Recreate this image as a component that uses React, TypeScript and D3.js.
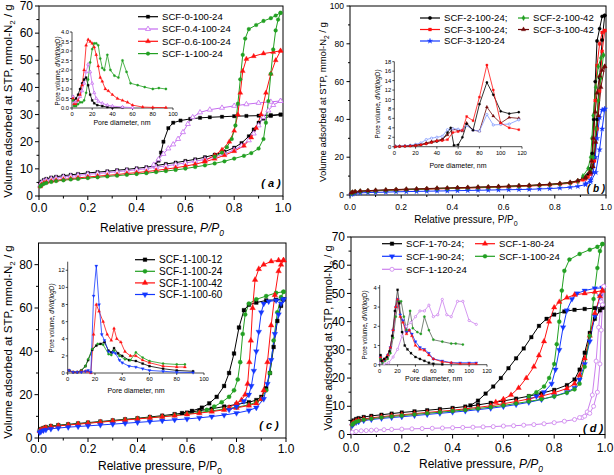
import React, { useEffect, useRef } from "react";
import * as d3 from "d3";

type Pt = [number, number];

// ---------------- Panel (a) ----------------
const aNames = ["SCF-0-100-24", "SCF-0.4-100-24", "SCF-0.6-100-24", "SCF-1-100-24"];
const aYTicks = [0, 10, 20, 30, 40, 50, 60, 70];
const a0Ads: Pt[] = [[0.005,4.5],[0.01,5.3],[0.02,5.9],[0.03,6.3],[0.05,6.8],[0.07,7.1],[0.1,7.5],[0.13,7.8],[0.16,8.1],[0.2,8.5],[0.24,8.8],[0.28,9.1],[0.32,9.5],[0.36,9.8],[0.4,10.2],[0.44,10.6],[0.48,11.2],[0.52,11.8],[0.56,12.3],[0.6,12.9],[0.64,13.5],[0.68,14.3],[0.72,15.2],[0.76,16.3],[0.8,17.8],[0.83,19.5],[0.86,22],[0.88,24.5],[0.9,27],[0.92,28.5],[0.95,29.5],[0.99,30]];
const a0Des: Pt[] = [[0.99,30],[0.95,29.8],[0.9,29.6],[0.85,29.5],[0.8,29.4],[0.75,29.2],[0.7,29],[0.66,28.8],[0.62,28.4],[0.58,27.8],[0.55,27],[0.53,25],[0.51,20],[0.5,16],[0.49,13],[0.475,11.5]];
const a04Ads: Pt[] = [[0.005,4],[0.01,4.8],[0.02,5.4],[0.03,5.8],[0.05,6.3],[0.07,6.6],[0.1,7],[0.13,7.3],[0.16,7.6],[0.2,8],[0.24,8.3],[0.28,8.6],[0.32,9],[0.36,9.3],[0.4,9.7],[0.44,10.1],[0.48,10.6],[0.52,11.1],[0.56,11.6],[0.6,12.2],[0.64,12.8],[0.68,13.5],[0.72,14.4],[0.76,15.5],[0.8,17],[0.83,18.5],[0.86,20.5],[0.88,23],[0.9,26],[0.92,29],[0.94,31.5],[0.96,33.5],[0.99,35]];
const a04Des: Pt[] = [[0.99,35],[0.95,34.7],[0.9,34.3],[0.85,33.8],[0.8,33.2],[0.75,32.5],[0.7,31.8],[0.66,30.8],[0.63,29],[0.61,26.5],[0.59,23.5],[0.57,21],[0.55,19],[0.53,17.5],[0.51,15.5],[0.49,13.5],[0.47,11.5]];
const a06Ads: Pt[] = [[0.005,3.5],[0.01,4.2],[0.02,4.8],[0.03,5.1],[0.05,5.5],[0.07,5.8],[0.1,6.1],[0.13,6.4],[0.16,6.7],[0.2,7],[0.24,7.3],[0.28,7.6],[0.32,7.9],[0.36,8.3],[0.4,8.6],[0.44,9],[0.48,9.4],[0.52,9.9],[0.56,10.4],[0.6,11],[0.64,11.7],[0.68,12.6],[0.72,13.7],[0.76,15],[0.8,16.5],[0.84,18.5],[0.87,21.5],[0.89,25],[0.91,30],[0.93,38],[0.95,45],[0.97,50],[0.99,53.5]];
const a06Des: Pt[] = [[0.99,53.5],[0.96,53],[0.92,52.5],[0.88,51.5],[0.85,50.5],[0.835,46],[0.825,38],[0.815,30],[0.8,24],[0.78,20],[0.75,17],[0.72,15],[0.68,13]];
const a1Ads: Pt[] = [[0.005,3.5],[0.01,4],[0.02,4.5],[0.03,4.8],[0.05,5.2],[0.07,5.5],[0.1,5.8],[0.13,6.1],[0.16,6.3],[0.2,6.6],[0.24,6.9],[0.28,7.2],[0.32,7.5],[0.36,7.8],[0.4,8.1],[0.44,8.4],[0.48,8.8],[0.52,9.2],[0.56,9.6],[0.6,10.1],[0.64,10.7],[0.68,11.3],[0.72,12],[0.76,12.8],[0.8,13.8],[0.84,14.8],[0.87,15.8],[0.9,17.5],[0.92,21],[0.93,27],[0.94,35],[0.95,45],[0.96,54],[0.97,61],[0.98,65],[0.99,67.5]];
const a1Des: Pt[] = [[0.99,67.5],[0.97,66.5],[0.95,65.5],[0.92,64.5],[0.89,63],[0.86,61.5],[0.845,58],[0.835,52],[0.825,43],[0.815,34],[0.805,26],[0.79,21],[0.77,18],[0.75,16],[0.72,14.5]];
// inset (a)
const aInXTicks = [0, 20, 40, 60, 80, 100];
const aInYTicks = [0, 0.5, 1, 1.5, 2, 2.5, 3, 3.5, 4];
const aIn0: Pt[] = [[1,0.6],[2,0.4],[4,0.5],[6,0.7],[8,1.0],[10,1.3],[12,1.5],[14,1.6],[16,1.2],[18,0.7],[20,0.4],[22,0.25],[25,0.15],[30,0.1],[35,0.05],[40,0.02],[50,0.02]];
const aIn04: Pt[] = [[1,0.6],[2,0.3],[4,0.3],[6,0.4],[8,0.6],[10,0.9],[12,1.3],[14,1.9],[16,2.3],[18,1.9],[20,1.3],[22,0.8],[24,0.5],[26,0.35],[30,0.25],[35,0.15],[40,0.1],[50,0.05],[60,0.02]];
const aIn06: Pt[] = [[1,0.5],[2,0.2],[4,0.2],[6,0.4],[8,0.7],[10,1.2],[12,2.0],[14,3.3],[16,3.6],[18,3.5],[20,3.4],[22,3.2],[24,2.8],[26,2.2],[28,1.6],[30,1.4],[33,1.0],[36,0.9],[40,0.7],[45,0.5],[50,0.4],[55,0.3],[60,0.15],[70,0.05],[80,0.03],[93,0.02]];
const aIn1: Pt[] = [[1,0.4],[2,0.1],[4,0.1],[6,0.2],[8,0.3],[10,0.3],[12,0.4],[14,0.8],[16,1.5],[18,2.4],[20,3.1],[22,3.4],[24,3.4],[26,3.3],[28,2.6],[30,2.1],[32,2.0],[35,2.8],[38,2.0],[42,1.7],[46,1.6],[50,2.5],[54,1.9],[58,1.3],[65,1.2],[72,1.1],[80,1.0],[86,1.05],[93,1.0]];

// ---------------- Panel (b) ----------------
const bNames = ["SCF-2-100-24;", "SCF-3-100-24;", "SCF-3-120-24", "SCF-2-100-42", "SCF-3-100-42"];
const bYTicks = [0, 20, 40, 60, 80, 100];
const b2Ads: Pt[] = [[0.005,1],[0.01,1.4],[0.02,1.7],[0.04,2],[0.07,2.2],[0.1,2.4],[0.14,2.6],[0.18,2.8],[0.22,3],[0.26,3.1],[0.3,3.3],[0.34,3.5],[0.38,3.6],[0.42,3.8],[0.46,3.9],[0.5,4.1],[0.54,4.2],[0.58,4.4],[0.62,4.6],[0.66,4.8],[0.7,5],[0.74,5.3],[0.78,5.6],[0.82,6],[0.86,6.6],[0.89,7.5],[0.92,9],[0.94,12],[0.955,20],[0.965,40],[0.975,62],[0.985,82],[0.995,95]];
const b2Des: Pt[] = [[0.995,95],[0.985,94.5],[0.975,88],[0.965,81.5],[0.958,60],[0.952,40],[0.946,22],[0.94,14],[0.93,11],[0.91,9]];
const b3Ads: Pt[] = [[0.005,0.8],[0.01,1.2],[0.02,1.5],[0.04,1.8],[0.07,2],[0.1,2.2],[0.14,2.4],[0.18,2.6],[0.22,2.8],[0.26,2.9],[0.3,3.1],[0.34,3.2],[0.38,3.4],[0.42,3.5],[0.46,3.7],[0.5,3.8],[0.54,4],[0.58,4.1],[0.62,4.3],[0.66,4.5],[0.7,4.7],[0.74,5],[0.78,5.3],[0.82,5.7],[0.86,6.2],[0.89,7],[0.92,8.5],[0.94,11],[0.955,18],[0.965,35],[0.975,55],[0.985,76],[0.995,87]];
const b3Des: Pt[] = [[0.995,87],[0.985,86],[0.975,80],[0.965,68.5],[0.958,50],[0.952,30],[0.946,18],[0.94,12],[0.93,9.5],[0.91,8]];
const b3120Ads: Pt[] = [[0.005,0.3],[0.01,0.6],[0.02,0.9],[0.04,1.1],[0.07,1.3],[0.1,1.4],[0.14,1.5],[0.18,1.7],[0.22,1.8],[0.26,1.9],[0.3,2],[0.34,2.1],[0.38,2.2],[0.42,2.3],[0.46,2.4],[0.5,2.5],[0.54,2.6],[0.58,2.7],[0.62,2.8],[0.66,2.9],[0.7,3],[0.74,3.2],[0.78,3.4],[0.82,3.7],[0.86,4.1],[0.89,4.6],[0.92,5.5],[0.94,7],[0.96,12],[0.975,24],[0.985,35],[0.995,45.5]];
const b3120Des: Pt[] = [[0.995,45.5],[0.985,45],[0.975,41],[0.965,30],[0.958,20],[0.95,12],[0.94,8],[0.92,6]];
const b242Ads: Pt[] = [[0.005,0.9],[0.01,1.3],[0.02,1.6],[0.04,1.9],[0.07,2.1],[0.1,2.3],[0.14,2.5],[0.18,2.7],[0.22,2.9],[0.26,3],[0.3,3.2],[0.34,3.4],[0.38,3.5],[0.42,3.7],[0.46,3.8],[0.5,4],[0.54,4.1],[0.58,4.3],[0.62,4.5],[0.66,4.7],[0.7,4.9],[0.74,5.2],[0.78,5.5],[0.82,5.9],[0.86,6.5],[0.89,7.4],[0.92,9.5],[0.94,13],[0.95,20],[0.96,35],[0.97,50],[0.98,62],[0.99,74]];
const b242Des: Pt[] = [[0.99,74],[0.98,72.5],[0.97,68],[0.96,57],[0.95,42],[0.945,30],[0.94,20],[0.93,14],[0.91,10]];
const b342Ads: Pt[] = [[0.005,1.1],[0.01,1.5],[0.02,1.8],[0.04,2.1],[0.07,2.3],[0.1,2.5],[0.14,2.7],[0.18,2.9],[0.22,3.1],[0.26,3.2],[0.3,3.4],[0.34,3.6],[0.38,3.7],[0.42,3.9],[0.46,4],[0.5,4.2],[0.54,4.3],[0.58,4.5],[0.62,4.7],[0.66,4.9],[0.7,5.1],[0.74,5.4],[0.78,5.7],[0.82,6.1],[0.86,6.7],[0.89,7.6],[0.92,9.5],[0.94,12],[0.95,15],[0.96,28],[0.97,42],[0.98,57],[0.995,68]];
const b342Des: Pt[] = [[0.995,68],[0.985,66],[0.975,63],[0.965,54],[0.958,44],[0.95,30],[0.944,18],[0.935,12],[0.92,9]];
// inset (b)
const bInXTicks = [0, 20, 40, 60, 80, 100, 120];
const bInYTicks = [0, 2, 4, 6, 8, 10, 12, 14, 16, 18];
const bIn2: Pt[] = [[1,0],[5,0.05],[10,0.1],[15,0.2],[20,0.3],[25,0.4],[30,0.6],[35,0.9],[40,1.1],[45,1.4],[50,3],[53,4],[56,0.3],[60,0.4],[64,2],[68,4.8],[74,3.5],[80,9],[87,13.6],[93,11],[100,7.5],[108,7],[117,7.3]];
const bIn3: Pt[] = [[1,0],[5,0.05],[10,0.1],[15,0.15],[20,0.25],[25,0.4],[30,0.6],[35,0.9],[40,1.2],[45,1.3],[50,1.5],[55,3],[60,3.2],[64,3.5],[68,6.4],[74,5.5],[80,10.5],[87,17.3],[93,12],[100,5],[108,4],[117,3.6]];
const bIn342: Pt[] = [[1,0.1],[5,0.1],[10,0.15],[15,0.2],[20,0.3],[25,0.5],[30,0.8],[35,1.1],[40,1.3],[45,1.6],[50,2.5],[55,3.7],[60,3.5],[64,3.3],[68,5],[74,3.5],[80,3.3],[87,8.4],[93,6.5],[100,5],[108,6.2],[117,6]];
const bIn3120: Pt[] = [[1,0.1],[5,0.1],[10,0.2],[15,0.3],[20,0.5],[25,0.8],[30,1.5],[35,1.8],[40,2],[45,2.2],[50,3.6],[55,3.8],[60,3.7],[64,3.5],[68,4.5],[74,3.5],[80,3.3],[87,6.8],[93,4.6],[100,4.7],[108,4.8],[117,5.7]];

// ---------------- Panel (c) ----------------
const cNames = ["SCF-1-100-12", "SCF-1-100-24", "SCF-1-100-42", "SCF-1-100-60"];
const cYTicks = [0, 20, 40, 60, 80];
const c12Ads: Pt[] = [[0.005,3.5],[0.01,4.1],[0.02,4.6],[0.03,5],[0.05,5.5],[0.08,5.9],[0.12,6.3],[0.16,6.7],[0.2,7.1],[0.25,7.6],[0.3,8.1],[0.35,8.6],[0.4,9.1],[0.45,9.7],[0.5,10.3],[0.55,11],[0.6,11.7],[0.65,12.6],[0.7,13.5],[0.75,14.5],[0.8,15.5],[0.85,16.5],[0.88,17.5],[0.9,19],[0.92,23],[0.935,30],[0.95,42],[0.965,54],[0.98,61],[0.99,64]];
const c12Des: Pt[] = [[0.99,64],[0.96,63.8],[0.92,63.5],[0.88,62.5],[0.85,61.5],[0.83,59],[0.81,51],[0.79,39],[0.77,30],[0.75,24],[0.72,19],[0.69,16],[0.66,14],[0.62,12.5],[0.58,11.5]];
const c24Ads: Pt[] = [[0.005,3.3],[0.01,3.9],[0.02,4.4],[0.03,4.8],[0.05,5.3],[0.08,5.7],[0.12,6.1],[0.16,6.5],[0.2,6.9],[0.25,7.4],[0.3,7.9],[0.35,8.4],[0.4,8.9],[0.45,9.4],[0.5,9.9],[0.55,10.5],[0.6,11.1],[0.65,11.8],[0.7,12.5],[0.75,13.3],[0.8,14.2],[0.85,15.3],[0.88,16.5],[0.9,18],[0.92,22],[0.935,30],[0.95,45],[0.965,58],[0.98,65],[0.99,67.5]];
const c24Des: Pt[] = [[0.99,67.5],[0.96,67],[0.92,65.5],[0.88,64],[0.85,62],[0.835,57],[0.825,48],[0.815,35],[0.805,27],[0.79,22],[0.77,19],[0.74,16.5],[0.71,14.5],[0.68,13]];
const c42Ads: Pt[] = [[0.005,3.2],[0.01,3.8],[0.02,4.3],[0.03,4.7],[0.05,5.2],[0.08,5.6],[0.12,6],[0.16,6.4],[0.2,6.8],[0.25,7.3],[0.3,7.8],[0.35,8.3],[0.4,8.8],[0.45,9.3],[0.5,9.8],[0.55,10.3],[0.6,10.9],[0.65,11.5],[0.7,12.2],[0.75,13],[0.8,13.9],[0.85,15],[0.88,16],[0.9,18],[0.91,22],[0.925,35],[0.94,52],[0.955,66],[0.97,77],[0.98,80],[0.99,82]];
const c42Des: Pt[] = [[0.99,82],[0.97,82],[0.94,81.5],[0.91,80],[0.89,78],[0.875,73],[0.865,60],[0.858,45],[0.852,35],[0.845,25],[0.835,20],[0.82,17.5],[0.8,16],[0.77,14]];
const c60Ads: Pt[] = [[0.005,2.5],[0.01,3],[0.02,3.5],[0.03,3.8],[0.05,4.2],[0.08,4.6],[0.12,5],[0.16,5.3],[0.2,5.6],[0.25,6],[0.3,6.4],[0.35,6.8],[0.4,7.2],[0.45,7.6],[0.5,8],[0.55,8.4],[0.6,8.8],[0.65,9.3],[0.7,9.9],[0.75,10.6],[0.8,11.5],[0.85,12.7],[0.88,14],[0.91,18],[0.925,25],[0.94,36],[0.955,48],[0.97,57],[0.98,62],[0.99,64]];
const c60Des: Pt[] = [[0.99,64],[0.96,63.5],[0.93,63],[0.91,62],[0.9,58],[0.89,49],[0.88,40],[0.87,31],[0.86,24],[0.85,20],[0.83,17],[0.8,14.5],[0.77,13]];
// inset (c)
const cInXTicks = [0, 20, 40, 60, 80, 100];
const cInYTicks = [0, 2, 4, 6, 8, 10, 12];
const cIn12: Pt[] = [[1,0.3],[4,0.1],[7,0.1],[10,0.3],[13,0.8],[15,1.5],[18,2.7],[21,3.2],[24,3.4],[27,3.6],[30,2.6],[32,2.4],[34,2.9],[37,2.3],[40,2],[45,1.5],[50,1.4],[55,1.1],[60,0.8],[70,0.5],[80,0.3],[92,0.2]];
const cIn24: Pt[] = [[1,0.3],[4,0.1],[7,0.1],[10,0.3],[13,0.8],[15,1.6],[18,2.8],[22,3.4],[26,3.3],[30,2.2],[32,2.1],[34,2.6],[38,2.0],[42,1.6],[46,1.5],[50,2.4],[55,1.8],[60,1.4],[70,1.1],[80,1.0],[86,1.0]];
const cIn42: Pt[] = [[1,0.3],[4,0.1],[7,0.1],[10,0.2],[13,0.2],[15,0.2],[17,0],[19,4.5],[21,8],[23,7.2],[26,6],[29,4.5],[32,3.8],[34,5.2],[36,4],[39,3.6],[42,2.5],[46,2],[50,2],[55,1.5],[60,1.2],[70,0.8],[80,0.7],[86,0.7]];
const cIn60: Pt[] = [[1,0.3],[4,0.1],[7,0.1],[10,0.1],[13,0.2],[15,0.3],[17,0.1],[19,9],[21,12.5],[23,8],[25,4.5],[27,3.8],[30,2.5],[33,2.4],[35,2.3],[38,1.5],[40,1.2],[45,0.8],[50,0.7],[55,0.5],[60,0.3],[70,0.2],[80,0.1],[92,0.05]];

// ---------------- Panel (d) ----------------
const dNames = ["SCF-1-70-24;", "SCF-1-90-24;", "SCF-1-120-24", "SCF-1-80-24", "SCF-1-100-24"];
const dYTicks = [0, 10, 20, 30, 40, 50, 60, 70];
const d70Ads: Pt[] = [[0.005,4.5],[0.01,5],[0.02,5.5],[0.03,5.8],[0.05,6.2],[0.08,6.6],[0.12,7],[0.16,7.4],[0.2,7.8],[0.25,8.2],[0.3,8.6],[0.35,9],[0.4,9.4],[0.45,9.9],[0.5,10.5],[0.55,11.2],[0.6,11.9],[0.65,12.7],[0.7,13.6],[0.75,14.6],[0.8,15.8],[0.85,17.5],[0.88,19.5],[0.9,23],[0.92,29],[0.94,36],[0.96,41],[0.98,44],[0.99,45]];
const d70Des: Pt[] = [[0.99,45],[0.96,44.8],[0.92,44.5],[0.88,44.2],[0.84,43.6],[0.8,42.5],[0.77,41],[0.74,38.5],[0.71,34.5],[0.68,30.5],[0.65,27],[0.62,23.5],[0.59,20],[0.56,17],[0.53,14.5],[0.5,12],[0.47,10.3]];
const d80Ads: Pt[] = [[0.005,3.8],[0.01,4.3],[0.02,4.8],[0.03,5.1],[0.05,5.5],[0.08,5.9],[0.12,6.3],[0.16,6.7],[0.2,7],[0.25,7.4],[0.3,7.8],[0.35,8.2],[0.4,8.6],[0.45,9.1],[0.5,9.6],[0.55,10.2],[0.6,10.9],[0.65,11.7],[0.7,12.6],[0.75,13.6],[0.8,14.8],[0.85,16.3],[0.88,18],[0.9,21],[0.92,27],[0.94,35],[0.96,43],[0.98,49],[0.99,51]];
const d80Des: Pt[] = [[0.99,51],[0.96,50.5],[0.92,50],[0.88,49.5],[0.85,48.5],[0.82,47],[0.8,45],[0.78,40],[0.76,33],[0.74,28],[0.72,24],[0.69,20],[0.66,16.5],[0.63,14],[0.6,12.5],[0.57,11.5]];
const d90Ads: Pt[] = [[0.005,3.2],[0.01,3.7],[0.02,4.2],[0.03,4.5],[0.05,4.9],[0.08,5.3],[0.12,5.7],[0.16,6],[0.2,6.3],[0.25,6.7],[0.3,7.1],[0.35,7.5],[0.4,7.9],[0.45,8.3],[0.5,8.8],[0.55,9.3],[0.6,9.9],[0.65,10.6],[0.7,11.4],[0.75,12.4],[0.8,13.6],[0.85,15],[0.88,16.5],[0.9,19.5],[0.92,25],[0.94,33],[0.96,42],[0.98,49],[0.99,52]];
const d90Des: Pt[] = [[0.99,52],[0.96,51.8],[0.92,51],[0.89,50],[0.87,48],[0.85,44],[0.835,38],[0.82,30],[0.805,23],[0.79,18],[0.76,15],[0.73,13.5],[0.7,12.5]];
const d100Ads: Pt[] = [[0.005,3.5],[0.01,4],[0.02,4.5],[0.03,4.8],[0.05,5.2],[0.08,5.6],[0.12,6],[0.16,6.4],[0.2,6.7],[0.25,7.1],[0.3,7.5],[0.35,7.9],[0.4,8.3],[0.45,8.7],[0.5,9.2],[0.55,9.7],[0.6,10.3],[0.65,11],[0.7,11.7],[0.75,12.5],[0.8,13.5],[0.85,14.8],[0.88,16],[0.9,18],[0.92,24],[0.94,35],[0.955,48],[0.97,59],[0.98,65],[0.99,67.5]];
const d100Des: Pt[] = [[0.99,67.5],[0.97,66.5],[0.94,65.5],[0.9,64],[0.86,62],[0.84,58],[0.83,51],[0.82,40],[0.81,32],[0.8,25],[0.78,20],[0.76,17],[0.73,15],[0.7,13.5]];
const d120Ads: Pt[] = [[0.005,0.8],[0.02,1.1],[0.04,1.3],[0.06,1.4],[0.08,1.5],[0.1,1.6],[0.13,1.7],[0.16,1.8],[0.2,1.9],[0.24,2],[0.28,2.1],[0.32,2.2],[0.36,2.3],[0.4,2.4],[0.44,2.5],[0.48,2.6],[0.52,2.7],[0.56,2.8],[0.6,3],[0.64,3.1],[0.68,3.3],[0.72,3.5],[0.76,3.8],[0.8,4.2],[0.84,4.7],[0.88,5.3],[0.91,6],[0.93,8],[0.95,14],[0.965,26],[0.975,38],[0.985,47],[0.995,52.5]];
const d120Des: Pt[] = [[0.995,52.5],[0.99,46],[0.985,37],[0.98,25],[0.97,15],[0.955,10],[0.94,7.5],[0.92,6.5],[0.9,6]];
// inset (d)
const dInXTicks = [0, 20, 40, 60, 80, 100, 120];
const dInYTicks = [0, 1, 2, 3, 4];
const dIn70: Pt[] = [[1,0.5],[2,0.2],[5,0.3],[8,0.4],[11,0.7],[14,1.5],[17,2.8],[20,3.9],[22,3.2],[25,1.7],[28,1.0],[31,0.8],[35,0.6],[40,0.4],[45,0.3],[50,0.2],[55,0.1],[60,0.05],[70,0.02]];
const dIn80: Pt[] = [[1,0.4],[3,0.2],[6,0.3],[9,0.5],[12,0.9],[15,1.8],[18,3.0],[20,3.4],[23,2.5],[26,2.2],[30,1.6],[33,1.8],[36,1.5],[40,1.0],[45,0.8],[50,0.75],[55,0.5],[60,0.3],[70,0.15],[80,0.1],[90,0.05],[100,0.05],[108,0.05]];
const dIn90: Pt[] = [[1,0.4],[3,0.2],[6,0.3],[9,0.5],[12,0.9],[15,1.8],[18,3.0],[20,3.4],[23,2.6],[26,2.3],[30,1.7],[33,1.8],[36,1.6],[40,1.2],[45,0.9],[50,0.8],[55,0.6],[60,0.3],[70,0.2],[80,0.1],[90,0.1],[100,0.1],[108,0.1]];
const dIn100: Pt[] = [[1,0.3],[3,0.1],[6,0.2],[9,0.3],[12,0.6],[15,1.4],[18,2.5],[21,3.3],[24,3.3],[27,2.5],[30,1.8],[34,2.8],[37,1.9],[42,1.7],[46,1.6],[50,2.5],[55,1.8],[60,1.3],[70,1.2],[80,1.1],[85,1.1],[93,1.05]];
const dIn120: Pt[] = [[1,0.1],[5,0.05],[10,0.1],[15,0.4],[20,0.8],[25,1.5],[30,2],[35,2.2],[40,2.5],[45,2.8],[50,2.8],[55,3.1],[60,2.5],[65,2.6],[70,3.4],[75,2.6],[80,2.5],[87,3.3],[93,3.3],[100,2.3],[108,2.1]];

// ---------------- drawing ----------------
const FONT = "'Liberation Sans', Arial, Helvetica, sans-serif";
const BLACK = "#000000", VIOLET = "#c56cf0", RED = "#ff1010", GREEN = "#22a022", BLUE = "#1438ff", BROWN = "#700808", LBLUE = "#7f98ff", VIOLET2 = "#cc80ee";

interface S { color: string; line?: string; shape: string; open?: boolean; branches: Pt[][] }
interface Frame { x0: number; x1: number; y0: number; y1: number; xMax: number; yMax: number; xTicks: number[]; xMinor: number[]; yTicks: number[]; yMinor: number[]; font: number; xFmt: (v: number) => string; yFmt: (v: number) => string; tick: number; minorLen: number; xDy: number; yDx: number; box: boolean; sw: number }

function symPath(shape: string, size: number) {
  const t = shape === "square" ? d3.symbolSquare : shape === "circle" ? d3.symbolCircle : shape === "tri" || shape === "triDown" ? d3.symbolTriangle : shape === "diamond" ? d3.symbolDiamond : d3.symbolStar;
  return d3.symbol().type(t).size(size)() as string;
}

function marker(g: any, shape: string, x: number, y: number, size: number, color: string, open?: boolean) {
  g.append("path").attr("d", symPath(shape, size))
    .attr("transform", `translate(${x},${y})${shape === "triDown" ? " rotate(180)" : ""}`)
    .attr("fill", open ? "#fff" : color).attr("stroke", color).attr("stroke-width", open ? 0.8 : 0.3);
}

function drawFrame(g: any, f: Frame) {
  const x = d3.scaleLinear().domain([0, f.xMax]).range([f.x0, f.x1]);
  const y = d3.scaleLinear().domain([0, f.yMax]).range([f.y0, f.y1]);
  const ln = (x1: number, y1: number, x2: number, y2: number) => g.append("line").attr("x1", x1).attr("y1", y1).attr("x2", x2).attr("y2", y2).attr("stroke", "#000").attr("stroke-width", f.sw);
  if (f.box) {
    g.append("rect").attr("x", f.x0).attr("y", f.y1).attr("width", f.x1 - f.x0).attr("height", f.y0 - f.y1).attr("fill", "none").attr("stroke", "#000").attr("stroke-width", f.sw);
  } else {
    ln(f.x0, f.y0, f.x1, f.y0);
    ln(f.x0, f.y0, f.x0, f.y1);
  }
  f.xTicks.forEach((v) => {
    ln(x(v), f.y0, x(v), f.y0 + f.tick);
    g.append("text").attr("x", x(v)).attr("y", f.y0 + f.xDy).attr("text-anchor", "middle").attr("font-size", f.font).attr("font-family", FONT).text(f.xFmt(v));
  });
  f.xMinor.forEach((v) => ln(x(v), f.y0, x(v), f.y0 + f.minorLen));
  f.yTicks.forEach((v) => {
    ln(f.x0, y(v), f.x0 - f.tick, y(v));
    g.append("text").attr("x", f.x0 + f.yDx).attr("y", y(v) + f.font * 0.35).attr("text-anchor", "end").attr("font-size", f.font).attr("font-family", FONT).text(f.yFmt(v));
  });
  f.yMinor.forEach((v) => ln(f.x0, y(v), f.x0 - f.minorLen, y(v)));
  return { x, y };
}

function drawSeries(g: any, sc: { x: any; y: any }, series: S[], msize: number, lw: number) {
  const line = d3.line<Pt>().x((d) => sc.x(d[0])).y((d) => sc.y(d[1]));
  series.forEach((s) => {
    s.branches.forEach((b) => {
      g.append("path").attr("d", line(b)).attr("fill", "none").attr("stroke", s.line || s.color).attr("stroke-width", lw);
    });
  });
  series.forEach((s) => {
    s.branches.forEach((b) => b.forEach((d) => marker(g, s.shape, sc.x(d[0]), sc.y(d[1]), msize, s.color, s.open)));
  });
}

function legendItem(g: any, x1: number, x2: number, y: number, s: S, name: string, font: number, msize: number) {
  g.append("line").attr("x1", x1).attr("x2", x2).attr("y1", y).attr("y2", y).attr("stroke", s.line || s.color).attr("stroke-width", 1.2);
  marker(g, s.shape, (x1 + x2) / 2, y, msize, s.color, s.open);
  g.append("text").attr("x", x2 + 4).attr("y", y + font * 0.36).attr("font-size", font).attr("font-family", FONT).text(name);
}

function yTitle(g: any, cx: number, cy: number, font: number, text1: string, sub: string, text2: string, italicPart?: string) {
  const t = g.append("text").attr("transform", `translate(${cx},${cy}) rotate(-90)`).attr("text-anchor", "middle").attr("font-size", font).attr("font-family", FONT).attr("dy", font * 0.35);
  t.append("tspan").text(text1);
  if (italicPart) t.append("tspan").attr("font-style", "italic").text(italicPart);
  if (sub) t.append("tspan").attr("font-size", font * 0.7).attr("dy", font * 0.25).text(sub);
  if (text2) t.append("tspan").attr("dy", sub ? -font * 0.25 : 0).text(text2);
}

function xTitle(g: any, cx: number, y: number, font: number, italic: boolean) {
  const t = g.append("text").attr("x", cx).attr("y", y).attr("text-anchor", "middle").attr("font-size", font).attr("font-family", FONT);
  t.append("tspan").text("Relative pressure, ");
  t.append("tspan").attr("font-style", italic ? "italic" : "normal").text("P/P");
  t.append("tspan").attr("font-style", italic ? "italic" : "normal").attr("font-size", font * 0.7).attr("dy", font * 0.3).text("0");
}

function panelLabel(g: any, x: number, y: number, font: number, letter: string) {
  g.append("text").attr("x", x).attr("y", y).attr("text-anchor", "middle").attr("font-size", font).attr("font-weight", "bold").attr("font-style", "italic").attr("font-family", FONT).attr("xml:space", "preserve").text(`( ${letter} )`);
}

const f1 = d3.format(".1f");
const fd = d3.format("d");
const xMainTicks = [0, 0.2, 0.4, 0.6, 0.8, 1.0];
const xMainMinor = [0.1, 0.3, 0.5, 0.7, 0.9];

function inset(g: any, f: Partial<Frame> & { x0: number; x1: number; y0: number; y1: number; xMax: number; yMax: number; xTicks: number[]; yTicks: number[]; yFmt: (v: number) => string }, series: S[], yl: [number, number], xl: [number, number]) {
  const full: Frame = { xMinor: [], yMinor: [], font: 5.8, xFmt: fd, tick: 2, minorLen: 0, xDy: 8, yDx: -3, box: false, sw: 0.7, ...f } as Frame;
  const sc = drawFrame(g, full);
  drawSeries(g, sc, series, 4, 0.8);
  yTitle(g, yl[0], yl[1], 6.3, "Pore volume, ", "", "", "dV/d(logD)");
  g.append("text").attr("x", xl[0]).attr("y", xl[1]).attr("text-anchor", "middle").attr("font-size", 7).attr("font-family", FONT).text("Pore diameter, nm");
}

export default function App() {
  const ref = useRef<SVGSVGElement>(null);
  useEffect(() => {
    const svg = d3.select(ref.current);
    svg.selectAll("*").remove();
    svg.append("rect").attr("width", 614).attr("height", 475).attr("fill", "#fff");
    const g = svg.append("g");

    // ===== Panel a =====
    const aS: S[] = [
      { color: BLACK, shape: "square", branches: [a0Ads, a0Des] },
      { color: VIOLET, shape: "tri", open: true, branches: [a04Ads, a04Des] },
      { color: RED, shape: "tri", branches: [a06Ads, a06Des] },
      { color: GREEN, shape: "circle", branches: [a1Ads, a1Des] },
    ];
    const aSc = drawFrame(g, { x0: 39, x1: 283, y0: 196, y1: 6, xMax: 1, yMax: 70, xTicks: xMainTicks, xMinor: xMainMinor, yTicks: aYTicks, yMinor: [5, 15, 25, 35, 45, 55, 65], font: 12, xFmt: f1, yFmt: fd, tick: 4, minorLen: 2.5, xDy: 16, yDx: -6, box: true, sw: 1 });
    drawSeries(g, aSc, aS, 11, 1);
    aS.forEach((s, i) => legendItem(g, 138, 158, 16.7 + i * 12.3, s, aNames[i], 9.6, 11));
    inset(g, { x0: 72, x1: 173, y0: 108, y1: 32, xMax: 100, yMax: 4, xTicks: aInXTicks, yTicks: aInYTicks, yFmt: f1 }, [
      { color: BLACK, shape: "square", branches: [aIn0] },
      { color: VIOLET, shape: "tri", open: true, branches: [aIn04] },
      { color: RED, shape: "tri", branches: [aIn06] },
      { color: GREEN, shape: "circle", branches: [aIn1] },
    ], [58, 71], [122, 125]);
    yTitle(g, 8, 101, 11.5, "Volume adsorbed at STP, mmol-N", "2", " / g");
    xTitle(g, 162, 232, 12, true);
    panelLabel(g, 271, 187, 11, "a");

    // ===== Panel b =====
    const bS: S[] = [
      { color: BLACK, shape: "circle", branches: [b2Ads, b2Des] },
      { color: RED, shape: "square", branches: [b3Ads, b3Des] },
      { color: BLUE, shape: "star", branches: [b3120Ads, b3120Des] },
      { color: GREEN, shape: "diamond", branches: [b242Ads, b242Des] },
      { color: BROWN, shape: "tri", branches: [b342Ads, b342Des] },
    ];
    const bSc = drawFrame(g, { x0: 350, x1: 606, y0: 195, y1: 6, xMax: 1, yMax: 100, xTicks: xMainTicks, xMinor: xMainMinor, yTicks: bYTicks, yMinor: [10, 30, 50, 70, 90], font: 8.5, xFmt: f1, yFmt: fd, tick: 3.5, minorLen: 2, xDy: 14.5, yDx: -6, box: true, sw: 1 });
    drawSeries(g, bSc, bS, 9, 1);
    legendItem(g, 420, 440, 18, bS[0], bNames[0], 9.6, 9);
    legendItem(g, 420, 440, 29.5, bS[1], bNames[1], 9.6, 9);
    legendItem(g, 420, 440, 41, bS[2], bNames[2], 9.6, 9);
    legendItem(g, 518, 529, 18, bS[3], bNames[3], 9.6, 9);
    legendItem(g, 518, 529, 29.5, bS[4], bNames[4], 9.6, 9);
    inset(g, { x0: 394.3, x1: 522, y0: 146.7, y1: 61.7, xMax: 120, yMax: 18, xTicks: bInXTicks, yTicks: bInYTicks, yFmt: fd }, [
      { color: BROWN, shape: "tri", branches: [bIn342] },
      { color: LBLUE, shape: "circle", open: true, branches: [bIn3120] },
      { color: BLACK, shape: "circle", branches: [bIn2] },
      { color: RED, shape: "square", branches: [bIn3] },
    ], [377.5, 104], [458, 168]);
    yTitle(g, 323, 102, 9.5, "Volume adsorbed at STP, mmol-N", "2", " / g");
    xTitle(g, 466, 223, 10, false);
    panelLabel(g, 596, 192, 10, "b");

    // ===== Panel c =====
    const cS: S[] = [
      { color: BLACK, shape: "square", branches: [c12Ads, c12Des] },
      { color: GREEN, shape: "circle", branches: [c24Ads, c24Des] },
      { color: RED, shape: "tri", branches: [c42Ads, c42Des] },
      { color: BLUE, shape: "triDown", branches: [c60Ads, c60Des] },
    ];
    const cSc = drawFrame(g, { x0: 38.5, x1: 286, y0: 438, y1: 243, xMax: 1, yMax: 90, xTicks: xMainTicks, xMinor: xMainMinor, yTicks: cYTicks, yMinor: [10, 30, 50, 70], font: 12, xFmt: f1, yFmt: fd, tick: 4, minorLen: 2.5, xDy: 15, yDx: -6, box: true, sw: 1 });
    drawSeries(g, cSc, cS, 14, 1);
    cS.forEach((s, i) => legendItem(g, 135, 155, 259.7 + i * 11.6, s, cNames[i], 10, 14));
    inset(g, { x0: 67.7, x1: 204, y0: 373, y1: 261.7, xMax: 100, yMax: 13, xTicks: cInXTicks, yTicks: cInYTicks, yFmt: fd }, [
      { color: BLACK, shape: "square", branches: [cIn12] },
      { color: GREEN, shape: "circle", branches: [cIn24] },
      { color: RED, shape: "tri", branches: [cIn42] },
      { color: BLUE, shape: "triDown", branches: [cIn60] },
    ], [52, 318], [136, 393]);
    yTitle(g, 8, 342, 11.5, "Volume adsorbed at STP, mmol-N", "2", " / g");
    xTitle(g, 160, 470, 12, false);
    panelLabel(g, 269, 428.5, 11, "c");

    // ===== Panel d =====
    const dS: S[] = [
      { color: BLACK, shape: "square", branches: [d70Ads, d70Des] },
      { color: BLUE, shape: "triDown", branches: [d90Ads, d90Des] },
      { color: VIOLET2, shape: "circle", open: true, branches: [d120Ads, d120Des] },
      { color: RED, shape: "tri", branches: [d80Ads, d80Des] },
      { color: GREEN, shape: "circle", branches: [d100Ads, d100Des] },
    ];
    const dSc = drawFrame(g, { x0: 351, x1: 605, y0: 434.5, y1: 237, xMax: 1, yMax: 70, xTicks: xMainTicks, xMinor: xMainMinor, yTicks: dYTicks, yMinor: [5, 15, 25, 35, 45, 55, 65], font: 12, xFmt: f1, yFmt: fd, tick: 4, minorLen: 2.5, xDy: 17.5, yDx: -6, box: true, sw: 1 });
    drawSeries(g, dSc, dS, 13, 1);
    legendItem(g, 382, 402, 243.7, dS[0], dNames[0], 9.6, 13);
    legendItem(g, 382, 402, 256.3, dS[1], dNames[1], 9.6, 13);
    legendItem(g, 382, 402, 269.3, dS[2], dNames[2], 9.6, 13);
    legendItem(g, 475, 495, 243.7, dS[3], dNames[3], 9.6, 13);
    legendItem(g, 475, 495, 256.3, dS[4], dNames[4], 9.6, 13);
    inset(g, { x0: 379.7, x1: 487, y0: 364.7, y1: 285, xMax: 120, yMax: 4.15, xTicks: dInXTicks, yTicks: dInYTicks, yFmt: fd }, [
      { color: VIOLET2, shape: "circle", open: true, branches: [dIn120] },
      { color: GREEN, line: "#556655", shape: "circle", branches: [dIn100] },
      { color: BLUE, shape: "triDown", branches: [dIn90] },
      { color: RED, shape: "tri", branches: [dIn80] },
      { color: BLACK, line: "#333", shape: "square", branches: [dIn70] },
    ], [365, 325], [433.7, 380.5]);
    yTitle(g, 328, 338, 11, "Volume adsorbed at STP, mmol-N", "2", " / g");
    xTitle(g, 481, 468, 12, true);
    panelLabel(g, 593, 431.5, 11, "d");
  }, []);
  return (
    <svg ref={ref} width={614} height={475} style={{ position: "absolute", left: 0, top: 0, display: "block" }} />
  );
}
